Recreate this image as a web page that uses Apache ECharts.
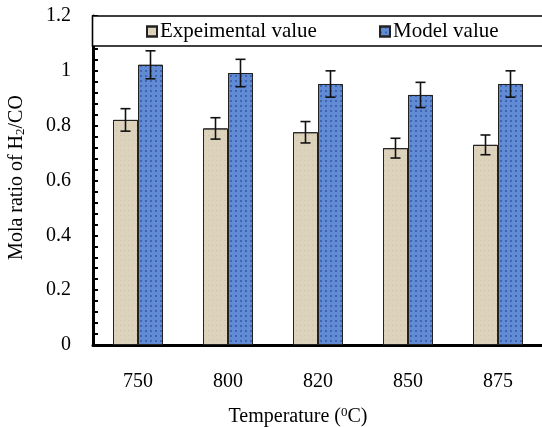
<!DOCTYPE html>
<html>
<head>
<meta charset="utf-8">
<script src="https://cdn.jsdelivr.net/npm/echarts@6/dist/echarts.min.js"></script>
<style>html,body{margin:0;padding:0;background:#fff}#c{width:542px;height:427px}</style>
</head>
<body>
<div id="c"></div>
<script>
const categories = ['750', '800', '820', '850', '875'];
const expValues = [0.821, 0.790, 0.776, 0.718, 0.730];
const expErrors = [0.041, 0.039, 0.039, 0.036, 0.036];
const modelValues = [1.022, 0.992, 0.952, 0.912, 0.952];
const modelErrors = [0.051, 0.050, 0.048, 0.046, 0.048];
const yTicks = [0, 0.2, 0.4, 0.6, 0.8, 1, 1.2];

const FONT = '"Liberation Serif", "Times New Roman", serif';
const BAR_W = 25;

function errSeries(values, errors, off) {
  return {
    type: 'custom',
    z: 5,
    data: values.map((v, i) => [i, v, errors[i]]),
    encode: { x: 0, y: 1 },
    renderItem: function (params, api) {
      const i = api.value(0), v = api.value(1), e = api.value(2);
      const top = api.coord([i, v + e]);
      const bot = api.coord([i, v - e]);
      const x = top[0] + off;
      const cap = 5;
      const st = { stroke: '#111', lineWidth: 1.6 };
      return {
        type: 'group',
        children: [
          { type: 'line', shape: { x1: x, y1: top[1], x2: x, y2: bot[1] }, style: st },
          { type: 'line', shape: { x1: x - cap, y1: top[1], x2: x + cap, y2: top[1] }, style: st },
          { type: 'line', shape: { x1: x - cap, y1: bot[1], x2: x + cap, y2: bot[1] }, style: st }
        ]
      };
    }
  };
}

const chart = echarts.init(document.getElementById('c'), null, { renderer: 'canvas' });
chart.setOption({
  animation: false,
  backgroundColor: '#fff',
  textStyle: { fontFamily: FONT },
  grid: { left: 93, top: 16, width: 450, height: 329, containLabel: false, outerBoundsMode: 'none' },
  legend: [
    { data: ['Expeimental value'], left: 146, top: 21, padding: 0, itemWidth: 10, itemHeight: 10, itemGap: 3,
      textStyle: { fontFamily: FONT, fontSize: 21, color: '#000', padding: [0, 0, 0, -2] }, icon: 'rect' },
    { data: ['Model value'], left: 379, top: 21, padding: 0, itemWidth: 10, itemHeight: 10, itemGap: 3,
      textStyle: { fontFamily: FONT, fontSize: 21, color: '#000', padding: [0, 0, 0, -2] }, icon: 'rect' }
  ],
  graphic: [
    { type: 'rect', z: 3, shape: { x: 92.5, y: 16, width: 460, height: 30 },
      style: { fill: '#fff', stroke: '#000', lineWidth: 1.6 } }
  ],
  xAxis: {
    type: 'category',
    data: categories,
    boundaryGap: true,
    axisLine: { lineStyle: { color: '#000', width: 3 } },
    axisTick: { inside: true, length: 5, lineStyle: { color: '#000', width: 2 } },
    axisLabel: { color: '#000', fontSize: 20, fontFamily: FONT, margin: 27 },
    name: 'Temperature ({sup|0}C)',
    nameLocation: 'middle',
    nameGap: 61,
    nameTextStyle: {
      color: '#000', fontSize: 20, fontFamily: FONT, padding: [0, 40, 0, 0],
      rich: { sup: { fontSize: 13, fontFamily: FONT, color: '#000', padding: [0, 0, 8, 0] } }
    }
  },
  yAxis: {
    type: 'value',
    min: 0, max: 1.2, interval: 0.2,
    splitLine: { show: false },
    axisLine: { show: true, lineStyle: { color: '#000', width: 3 } },
    axisTick: { show: true, inside: true, length: 5, lineStyle: { color: '#000', width: 2 } },
    minorTick: { show: true, splitNumber: 5, length: 5, lineStyle: { color: '#000', width: 2 } },
    axisLabel: { color: '#000', fontSize: 20, fontFamily: FONT, margin: 22, padding: [5, 0, 0, 0],
      formatter: function (v) { return yTicks.indexOf(+v.toFixed(1)) >= 0 ? String(+v.toFixed(1)) : ''; } },
    name: 'Mola ratio of H{sub|2}/CO',
    nameLocation: 'middle',
    nameGap: 66,
    nameRotate: 90,
    nameTextStyle: {
      color: '#000', fontSize: 20, fontFamily: FONT, padding: [0, 0, 0, 6],
      rich: { sub: { fontSize: 13, fontFamily: FONT, color: '#000', padding: [8, 0, 0, 0] } }
    }
  },
  series: [
    { name: 'Expeimental value', type: 'bar', data: expValues, barWidth: BAR_W, barGap: '0%',
      itemStyle: { color: '#ddd3bd', borderColor: '#222', borderWidth: 1,
        decal: { symbol: 'rect', symbolSize: 1, color: 'rgba(150,130,100,0.18)', dashArrayX: [1, 3], dashArrayY: [1, 4], rotation: 0 } } },
    { name: 'Model value', type: 'bar', data: modelValues, barWidth: BAR_W, barGap: '0%',
      itemStyle: { color: '#628bd6', borderColor: '#222', borderWidth: 1,
        decal: { symbol: 'rect', symbolSize: 1, color: 'rgba(25,55,130,0.45)', dashArrayX: [2, 3], dashArrayY: [2, 3], rotation: 0 } } },
    errSeries(expValues, expErrors, -BAR_W / 2),
    errSeries(modelValues, modelErrors, BAR_W / 2)
  ]
});
</script>
</body>
</html>
